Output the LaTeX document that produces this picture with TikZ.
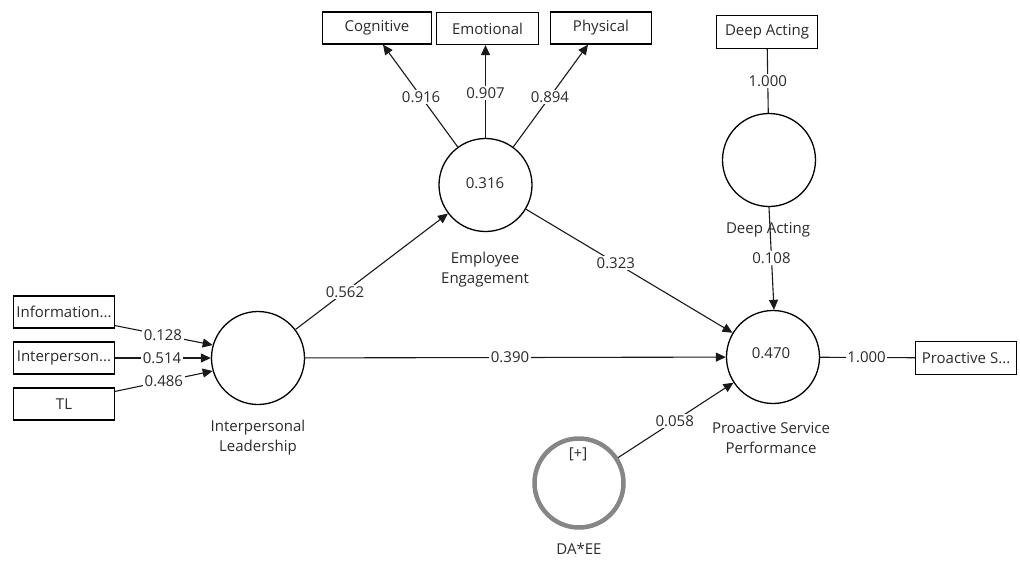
\documentclass[tikz,border=0pt]{standalone}
\usepackage{fontspec}
\setmainfont{Open Sans}
\usetikzlibrary{arrows.meta}
\definecolor{txt}{HTML}{2A2A2A}
\tikzset{
  every node/.style={font=\fontsize{15}{20}\selectfont, text=txt},
  ind/.style={draw=black, line width=1.2pt, minimum width=101pt, minimum height=32pt, inner sep=0pt},
  lv/.style={draw=black, circle, line width=1.3pt, minimum size=93pt, inner sep=0pt},
  mod/.style={draw=gray!95, circle, line width=4.5pt, minimum size=89pt, inner sep=0pt},
  lab/.style={fill=white, inner sep=1.5pt},
  captxt/.style={align=center, inner sep=0pt},
  conn/.style={line width=1.1pt, draw=black!90},
  arr/.style={conn, -{Triangle[length=10pt,width=9pt]}},
}
\begin{document}
\begin{tikzpicture}[x=1pt,y=-1pt]
\useasboundingbox (0,0) rectangle (1020,560);
% indicator boxes
\node[ind] (info) at (64,312) {Information...};
\node[ind] (intp) at (64,358) {Interperson...};
\node[ind] (tl) at (64,404) {TL};
\node[ind, minimum width=109pt] (cog) at (377,28) {Cognitive};
\node[ind, minimum width=102pt] (emo) at (487.5,28.5) {Emotional};
\node[ind] (phy) at (601,28) {Physical};
\node[ind, minimum height=33pt] (dab) at (767,32) {Deep Acting};
\node[ind, minimum height=33pt] (psb) at (966,358) {Proactive S...};
% latent variables
\node[lv] (il) at (258,358) {};
\node[lv] (ee) at (485.5,185) {};
\node[lv] (da) at (769,160) {};
\node[lv] (psp) at (773,357) {};
\node[mod] (daee) at (579,483) {};
% texts in circles
\node (eer2) at (485,183) {0.316};
\node (pspr2) at (771,353) {0.470};
\node (plus) at (578,454) {[+]};
% captions
\node[captxt] (ilc) at (258,438) {Interpersonal\\Leadership};
\node[captxt] (eec) at (485,270) {Employee\\Engagement};
\node[captxt] (dac) at (768,230) {Deep Acting};
\node[captxt] (pspc) at (771,438) {Proactive Service\\Performance};
\node[captxt] (daeec) at (579,549) {DA*EE};
% indicators of IL
\draw[arr] ([yshift=3pt]info.south east) -- node[lab, pos=0.49] {0.128} (il.164);
\draw[arr] (intp.east) -- node[lab, pos=0.49] {0.514} (il.west);
\draw[arr] ([yshift=-4pt]tl.north east) -- node[lab, pos=0.5] {0.486} (il.196);
% indicators of EE
\draw[arr] (ee) -- node[lab, pos=0.49] {0.916} ([xshift=6pt]cog.south);
\draw[arr] (ee) -- node[lab, pos=0.48] {0.907} ([xshift=-2pt]emo.south);
\draw[arr] (ee) -- node[lab, pos=0.49] {0.894} ([xshift=-13pt]phy.south);
% DA indicator
\draw[conn] (dab) -- node[lab, pos=0.5] {1.000} (da);
% PSP indicator
\draw[conn] (psp) -- node[lab, pos=0.49] {1.000} (psb);
% structural paths
\draw[arr] (il) -- node[lab, pos=0.324] {0.562} (ee);
\draw[arr] (ee) -- node[lab, pos=0.435] {0.323} (psp);
\draw[arr] (il) -- node[lab, pos=0.487] {0.390} (psp);
\draw[arr] (da.south) -- node[lab, pos=0.495] {0.108} ([xshift=1pt]psp.north);
\draw[arr] (daee) -- node[lab, pos=0.49] {0.058} (psp);
\end{tikzpicture}
\end{document}
